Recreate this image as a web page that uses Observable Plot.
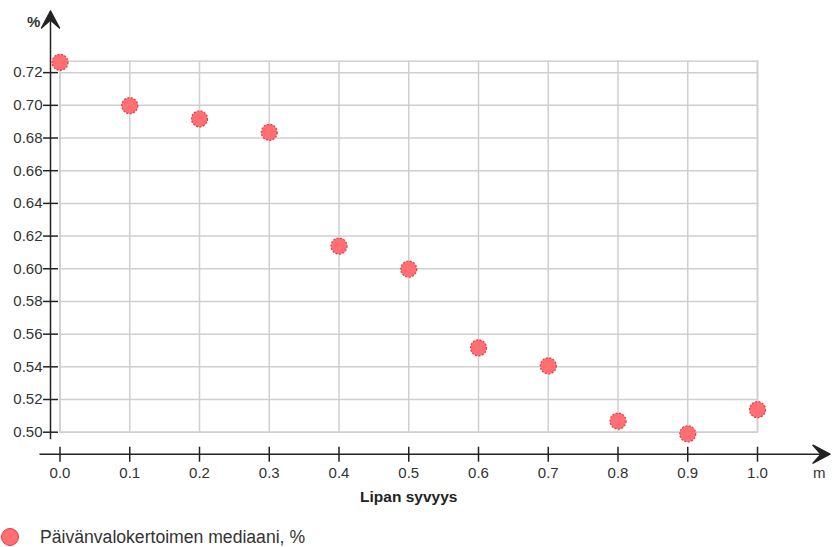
<!DOCTYPE html>
<html>
<head>
<meta charset="utf-8">
<script src="https://cdn.jsdelivr.net/npm/d3@7"></script>
<script src="https://cdn.jsdelivr.net/npm/@observablehq/plot@0.6"></script>
<style>
  html, body { margin: 0; padding: 0; background: #fff; }
  #chart { position: relative; width: 833px; height: 547px; font-family: "Liberation Sans", Arial, sans-serif; }
  #legend { position: absolute; left: 0; top: 527px; display: flex; align-items: center; font-size: 17.6px; color: #333; line-height: 20px; }
  #legend .swatch { width: 18px; height: 18px; border-radius: 50%; background: #ff6f73; border: 1px solid #e53a40; box-sizing: border-box; margin-left: 1px; margin-right: 21px; }
</style>
</head>
<body>
<div id="chart"></div>
<script>
// Lipan syvyys (m) and the median daylight factor (%) at each depth
const depth = [0.0, 0.1, 0.2, 0.3, 0.4, 0.5, 0.6, 0.7, 0.8, 0.9, 1.0];
const median = [0.7263, 0.6998, 0.6917, 0.6835, 0.6139, 0.5998, 0.5516, 0.5406, 0.5068, 0.4990, 0.5138];

const xTicks = [0.0, 0.1, 0.2, 0.3, 0.4, 0.5, 0.6, 0.7, 0.8, 0.9, 1.0];
const yTicks = [0.50, 0.52, 0.54, 0.56, 0.58, 0.60, 0.62, 0.64, 0.66, 0.68, 0.70, 0.72];

const seriesName = "Päivänvalokertoimen mediaani, %";
const xTitle = "Lipan syvyys";
const xUnit = "m";
const yUnit = "%";

const data = depth.map((d, i) => ({depth: d, value: median[i]}));

const axisColor = "#222";
const gridColor = "#cfcfcf";

// Axis lines with arrowheads, drawn relative to the plot frame
function arrowAxes(index, scales, values, dim) {
  const g = d3.create("svg:g");
  const left = dim.marginLeft, bottom = dim.height - dim.marginBottom;
  const ax = left - 9;          // vertical axis x
  const ay = bottom + 22.5;     // horizontal axis y
  g.append("line").attr("x1", ax).attr("x2", ax).attr("y1", ay - 15).attr("y2", 16)
    .attr("stroke", axisColor).attr("stroke-width", 1.5);
  g.append("path").attr("d", `M${ax},11 L${ax - 9},28 L${ax},20 L${ax + 9},28 Z`)
    .attr("fill", axisColor).attr("stroke", axisColor).attr("stroke-width", 1.5).attr("stroke-linejoin", "round");
  const rightEnd = dim.width - 3;
  g.append("line").attr("x1", left - 20).attr("x2", rightEnd - 4).attr("y1", ay).attr("y2", ay)
    .attr("stroke", axisColor).attr("stroke-width", 1.5);
  g.append("path").attr("d", `M${rightEnd},${ay} L${rightEnd - 17},${ay - 9} L${rightEnd - 9},${ay} L${rightEnd - 17},${ay + 9} Z`)
    .attr("fill", axisColor).attr("stroke", axisColor).attr("stroke-width", 1.5).attr("stroke-linejoin", "round");
  return g.node();
}

const plot = Plot.plot({
  width: 833,
  height: 520,
  marginLeft: 59.5,
  marginRight: 76,
  marginTop: 60.7,
  marginBottom: 88.3,
  style: {fontFamily: "'Liberation Sans', Arial, sans-serif", fontSize: "15px", color: "#333", background: "#fff"},
  x: {domain: [0, 1]},
  y: {domain: [0.5, 0.727]},
  marks: [
    Plot.gridX(xTicks, {stroke: gridColor, strokeOpacity: 1, strokeWidth: 1.5}),
    Plot.gridY(yTicks, {stroke: gridColor, strokeOpacity: 1, strokeWidth: 1.5}),
    Plot.frame({stroke: gridColor, strokeWidth: 1.5}),
    arrowAxes,
    Plot.axisY(yTicks, {
      anchor: "left", tickSize: 15, dx: -1.5, tickPadding: 1,
      tickFormat: d3.format(".2f"), stroke: axisColor, strokeWidth: 1.5, fill: "#333",
      label: null
    }),
    Plot.axisX(xTicks, {
      anchor: "bottom", tickSize: 15, dy: 15, tickPadding: 5,
      tickFormat: d3.format(".1f"), stroke: axisColor, strokeWidth: 1.5, fill: "#333",
      label: null
    }),
    Plot.text([xTitle], {frameAnchor: "bottom", dy: 70, fontWeight: "bold", fontSize: 15.5, fill: "#222"}),
    Plot.text([xUnit], {frameAnchor: "bottom-right", dx: 68, dy: 46, fontSize: 15, fill: "#333"}),
    Plot.text([yUnit], {frameAnchor: "top-left", dx: -33, dy: -45, fontSize: 15, fontWeight: "bold", fill: "#333"}),
    Plot.dot(data, {
      x: "depth", y: "value", r: 8,
      fill: "#ff6f73", fillOpacity: 1,
      stroke: "#e53a40", strokeWidth: 1.2, strokeDasharray: "2,1.5"
    })
  ]
});

const chart = document.getElementById("chart");
chart.appendChild(plot);

const legend = document.createElement("div");
legend.id = "legend";
legend.innerHTML = `<span class="swatch"></span><span></span>`;
legend.lastChild.textContent = seriesName;
chart.appendChild(legend);
</script>
</body>
</html>
